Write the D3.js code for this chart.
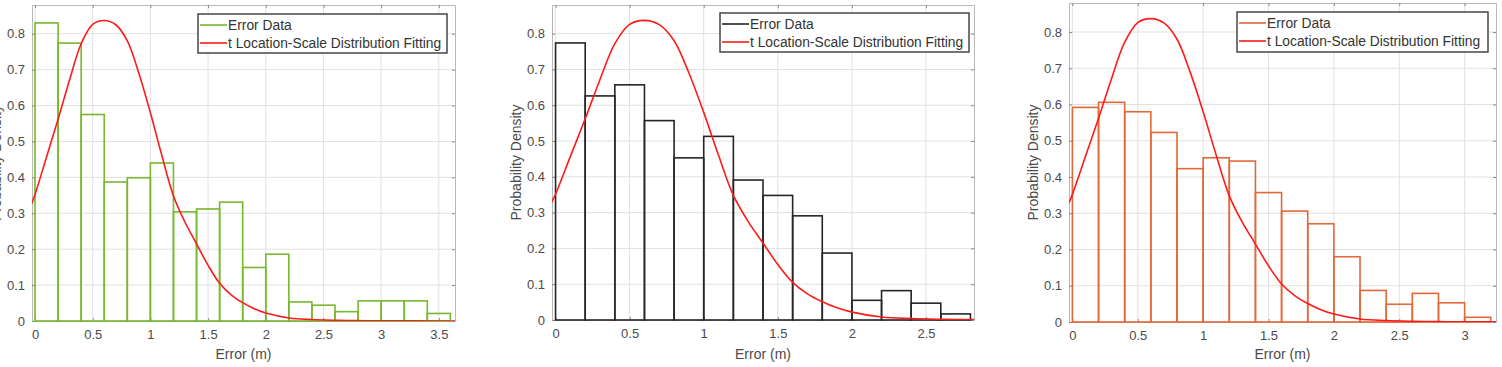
<!DOCTYPE html>
<html>
<head>
<meta charset="utf-8">
<script src="https://cdn.jsdelivr.net/npm/d3@7"></script>
<style>
  html, body { margin: 0; padding: 0; background: #fff; }
  svg { display: block; font-family: "Liberation Sans", Arial, Helvetica, sans-serif; }
</style>
</head>
<body>
<svg id="chart" width="1502" height="367"></svg>
<script>
// ---------- data ----------
const binEdges1 = [0, 0.2, 0.4, 0.6, 0.8, 1.0, 1.2, 1.4, 1.6, 1.8, 2.0, 2.2, 2.4, 2.6, 2.8, 3.0, 3.2, 3.4, 3.6];
const density1  = [0.830, 0.774, 0.575, 0.387, 0.399, 0.440, 0.304, 0.312, 0.331, 0.149, 0.186, 0.053, 0.044, 0.026, 0.056, 0.056, 0.056, 0.021];

const binEdges2 = [0, 0.2, 0.4, 0.6, 0.8, 1.0, 1.2, 1.4, 1.6, 1.8, 2.0, 2.2, 2.4, 2.6, 2.8];
const density2  = [0.774, 0.626, 0.657, 0.557, 0.453, 0.513, 0.391, 0.348, 0.291, 0.187, 0.055, 0.082, 0.047, 0.017];

const binEdges3 = [0, 0.2, 0.4, 0.6, 0.8, 1.0, 1.2, 1.4, 1.6, 1.8, 2.0, 2.2, 2.4, 2.6, 2.8, 3.0, 3.2];
const density3  = [0.592, 0.606, 0.580, 0.523, 0.423, 0.453, 0.444, 0.357, 0.306, 0.271, 0.180, 0.087, 0.049, 0.079, 0.053, 0.013];

// fitted t location-scale curve (same in all panels)
const fitX = [-0.03, 0, 0.1, 0.2, 0.3, 0.4, 0.5, 0.6, 0.7, 0.8, 0.9, 1.0, 1.1, 1.2, 1.3, 1.4, 1.5, 1.6, 1.7, 1.8, 1.9, 2.0, 2.2, 2.4, 2.6, 2.8, 3.0, 3.3, 3.7];
const fitY = [0.326, 0.352, 0.457, 0.562, 0.672, 0.772, 0.826, 0.837, 0.825, 0.780, 0.690, 0.580, 0.460, 0.348, 0.275, 0.215, 0.155, 0.105, 0.073, 0.051, 0.034, 0.022, 0.0085, 0.004, 0.002, 0.001, 0.0006, 0.0003, 0.0001];

const xTicks1 = [0, 0.5, 1, 1.5, 2, 2.5, 3, 3.5];
const xTicks2 = [0, 0.5, 1, 1.5, 2, 2.5];
const xTicks3 = [0, 0.5, 1, 1.5, 2, 2.5, 3];
const yTicks  = [0, 0.1, 0.2, 0.3, 0.4, 0.5, 0.6, 0.7, 0.8];

const xLabel = "Error (m)";
const yLabel = "Probability Density";
const legendLabels = ["Error Data", "t Location-Scale Distribution Fitting"];

// ---------- layout ----------
const panels = [
  { edges: binEdges1, dens: density1, xticks: xTicks1, color: "#77b82e",
    left: 32, right: 455, top: 5, bottom: 321, xmin: -0.026, xmax: 3.64,
    leg: { x: 198, y: 14, w: 249, h: 39 } },
  { edges: binEdges2, dens: density2, xticks: xTicks2, color: "#262626",
    left: 552, right: 974, top: 5, bottom: 320, xmin: -0.024, xmax: 2.824,
    leg: { x: 720, y: 13, w: 249, h: 39 } },
  { edges: binEdges3, dens: density3, xticks: xTicks3, color: "#e2683a",
    left: 1069, right: 1496, top: 3, bottom: 322, xmin: -0.026, xmax: 3.24,
    leg: { x: 1237, y: 12, w: 251, h: 40 } }
];

const svg = d3.select("#chart");
const frameColor = "#b9b9b9";
const gridColor = "#e1e1e1";
const textColor = "#4a4a4a";

panels.forEach((p, pi) => {
  const x = d3.scaleLinear().domain([p.xmin, p.xmax]).range([p.left, p.right]);
  const y = d3.scaleLinear().domain([0, 0.88]).range([p.bottom, p.top]);
  const g = svg.append("g");

  const clipId = "clip" + pi;
  svg.append("clipPath").attr("id", clipId).append("rect")
    .attr("x", p.left).attr("y", p.top).attr("width", p.right - p.left).attr("height", p.bottom - p.top);

  // grid
  g.append("g").selectAll("line").data(p.xticks).join("line")
    .attr("x1", d => x(d)).attr("x2", d => x(d)).attr("y1", p.top).attr("y2", p.bottom)
    .attr("stroke", gridColor).attr("stroke-width", 1);
  g.append("g").selectAll("line").data(yTicks).join("line")
    .attr("x1", p.left).attr("x2", p.right).attr("y1", d => y(d)).attr("y2", d => y(d))
    .attr("stroke", gridColor).attr("stroke-width", 1);

  // axes (inward ticks) on all four sides
  const axB = d3.axisBottom(x).tickValues(p.xticks).tickSizeInner(-3).tickSizeOuter(0).tickPadding(9).tickFormat(d3.format("~g"));
  const axT = d3.axisTop(x).tickValues(p.xticks).tickSizeInner(-3).tickSizeOuter(0).tickFormat("");
  const axL = d3.axisLeft(y).tickValues(yTicks).tickSizeInner(-3).tickSizeOuter(0).tickPadding(7).tickFormat(d3.format("~g"));
  const axR = d3.axisRight(y).tickValues(yTicks).tickSizeInner(-3).tickSizeOuter(0).tickFormat("");
  const axes = [
    g.append("g").attr("transform", `translate(0,${p.bottom})`).call(axB),
    g.append("g").attr("transform", `translate(0,${p.top})`).call(axT),
    g.append("g").attr("transform", `translate(${p.left},0)`).call(axL),
    g.append("g").attr("transform", `translate(${p.right},0)`).call(axR)
  ];
  axes.forEach(a => {
    a.select(".domain").attr("stroke", frameColor);
    a.selectAll(".tick line").attr("stroke", "#8a8a8a");
    a.selectAll("text").attr("fill", textColor).style("font-size", "13px")
      .style("font-family", '"Liberation Sans", Arial, sans-serif');
  });

  // histogram bars
  const bins = p.dens.map((v, i) => ({ x0: p.edges[i], x1: p.edges[i + 1], v }));
  g.append("g").selectAll("rect").data(bins).join("rect")
    .attr("x", d => x(d.x0)).attr("width", d => x(d.x1) - x(d.x0))
    .attr("y", d => y(d.v)).attr("height", d => y(0) - y(d.v))
    .attr("fill", "none").attr("stroke", p.color).attr("stroke-width", 1.6);

  // fit curve
  const pts = fitX.map((xv, i) => [xv, fitY[i]]);
  g.append("path").datum(pts)
    .attr("clip-path", `url(#${clipId})`)
    .attr("d", d3.line().x(d => x(d[0])).y(d => y(d[1])).curve(d3.curveCatmullRom))
    .attr("fill", "none").attr("stroke", "#ff1a1a").attr("stroke-width", 1.6);

  // labels
  g.append("text").attr("x", (p.left + p.right) / 2).attr("y", 359)
    .attr("text-anchor", "middle").attr("fill", textColor).style("font-size", "14px").text(xLabel);
  g.append("text")
    .attr("transform", `translate(${p.left - 36},${(p.top + p.bottom) / 2}) rotate(-90)`)
    .attr("text-anchor", "middle").attr("dy", "0.35em").attr("fill", textColor)
    .style("font-size", "14px").text(yLabel);

  // legend
  const L = p.leg;
  const lg = g.append("g");
  lg.append("rect").attr("x", L.x).attr("y", L.y).attr("width", L.w).attr("height", L.h)
    .attr("fill", "#fff").attr("stroke", "#3a3a3a").attr("stroke-width", 1.4);
  const rows = [{ c: p.color, t: legendLabels[0] }, { c: "#ff1a1a", t: legendLabels[1] }];
  rows.forEach((r, i) => {
    const cy = L.y + 11 + i * 18;
    lg.append("line").attr("x1", L.x + 2).attr("x2", L.x + 29).attr("y1", cy).attr("y2", cy)
      .attr("stroke", r.c).attr("stroke-width", 1.6);
    lg.append("text").attr("x", L.x + 30).attr("y", cy).attr("dy", "0.35em")
      .attr("fill", "#333").style("font-size", "13.8px").text(r.t);
  });
});
</script>
</body>
</html>
